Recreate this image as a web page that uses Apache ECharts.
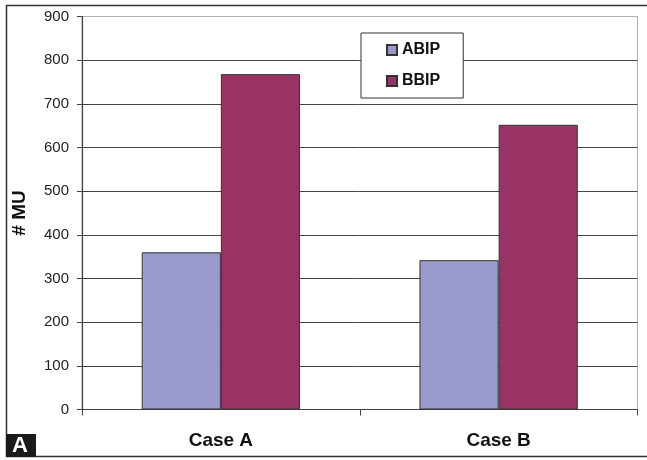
<!DOCTYPE html>
<html>
<head>
<meta charset="utf-8">
<script src="https://cdn.jsdelivr.net/npm/echarts@6/dist/echarts.min.js"></script>
<style>
  html, body { margin: 0; padding: 0; background: #fff; }
  #chart { width: 647px; height: 460px; }
</style>
</head>
<body>
<div id="chart"></div>
<script>
// Monitor units per plan for each case
const categories = ['Case A', 'Case B'];
const abipValues = [360, 342];
const bbipValues = [768, 652];
const seriesNames = ['ABIP', 'BBIP'];
const yTicks = [0, 100, 200, 300, 400, 500, 600, 700, 800, 900];

const chart = echarts.init(document.getElementById('chart'), null, { renderer: 'canvas' });

const FONT = '"Liberation Sans", Arial, sans-serif';

// Gridlines: dark for interior values, light for the top frame line
const splitColors = yTicks.map((v, i) => (i === yTicks.length - 1 ? '#b0b0b0' : '#444'));

chart.setOption({
  animation: false,
  backgroundColor: '#fff',
  grid: {
    left: 82, right: 9.5, top: 16.5, bottom: 50.5,
    show: true, borderColor: '#b0b0b0', borderWidth: 1, backgroundColor: 'transparent'
  },
  legend: {
    orient: 'vertical',
    left: 361, top: 33,
    data: seriesNames,
    icon: 'rect',
    itemWidth: 10, itemHeight: 10,
    itemGap: 15,
    padding: [9, 23, 9, 25],
    backgroundColor: '#fff',
    borderColor: '#333', borderWidth: 1,
    textStyle: { fontFamily: FONT, fontWeight: 'bold', fontSize: 16, color: '#111' }
  },
  xAxis: {
    type: 'category',
    data: categories,
    boundaryGap: true,
    axisLine: { lineStyle: { color: '#444', width: 1.2 } },
    axisTick: { show: true, length: 6, alignWithLabel: false, lineStyle: { color: '#444' } },
    axisLabel: { fontFamily: FONT, fontWeight: 'bold', fontSize: 19, color: '#111', margin: 22 }
  },
  yAxis: {
    type: 'value',
    min: 0, max: 900, interval: 100,
    name: '# MU',
    nameLocation: 'middle',
    nameGap: 53,
    nameTextStyle: { fontFamily: FONT, fontWeight: 'bold', fontSize: 19, color: '#111' },
    axisLine: { show: true, lineStyle: { color: '#444', width: 1.2 } },
    axisTick: { show: true, length: 5, lineStyle: { color: '#444' } },
    axisLabel: {
      fontFamily: FONT, fontSize: 15, color: '#222', margin: 13,
      formatter: v => String(v)
    },
    splitLine: { show: true, lineStyle: { color: splitColors, width: 1 } }
  },
  series: [
    {
      name: seriesNames[0], type: 'bar', data: abipValues,
      barGap: '0%', barCategoryGap: '43%',
      itemStyle: { color: '#9999cc', borderColor: '#333', borderWidth: 1 }
    },
    {
      name: seriesNames[1], type: 'bar', data: bbipValues,
      barGap: '0%', barCategoryGap: '43%',
      itemStyle: { color: '#993366', borderColor: '#333', borderWidth: 1 }
    }
  ],
  graphic: [
    {
      type: 'rect', silent: true, z: 100,
      shape: { x: 6.5, y: 5.5, width: 650, height: 451 },
      style: { fill: 'none', stroke: '#333', lineWidth: 1.5 }
    },
    {
      type: 'rect', silent: true, z: 101,
      shape: { x: 6, y: 434, width: 30, height: 23 },
      style: { fill: '#1a1a1a' }
    },
    {
      type: 'text', silent: true, z: 102,
      left: 12, top: 435,
      style: { text: 'A', fill: '#fff', font: 'bold 22px ' + FONT }
    }
  ]
});
</script>
</body>
</html>
